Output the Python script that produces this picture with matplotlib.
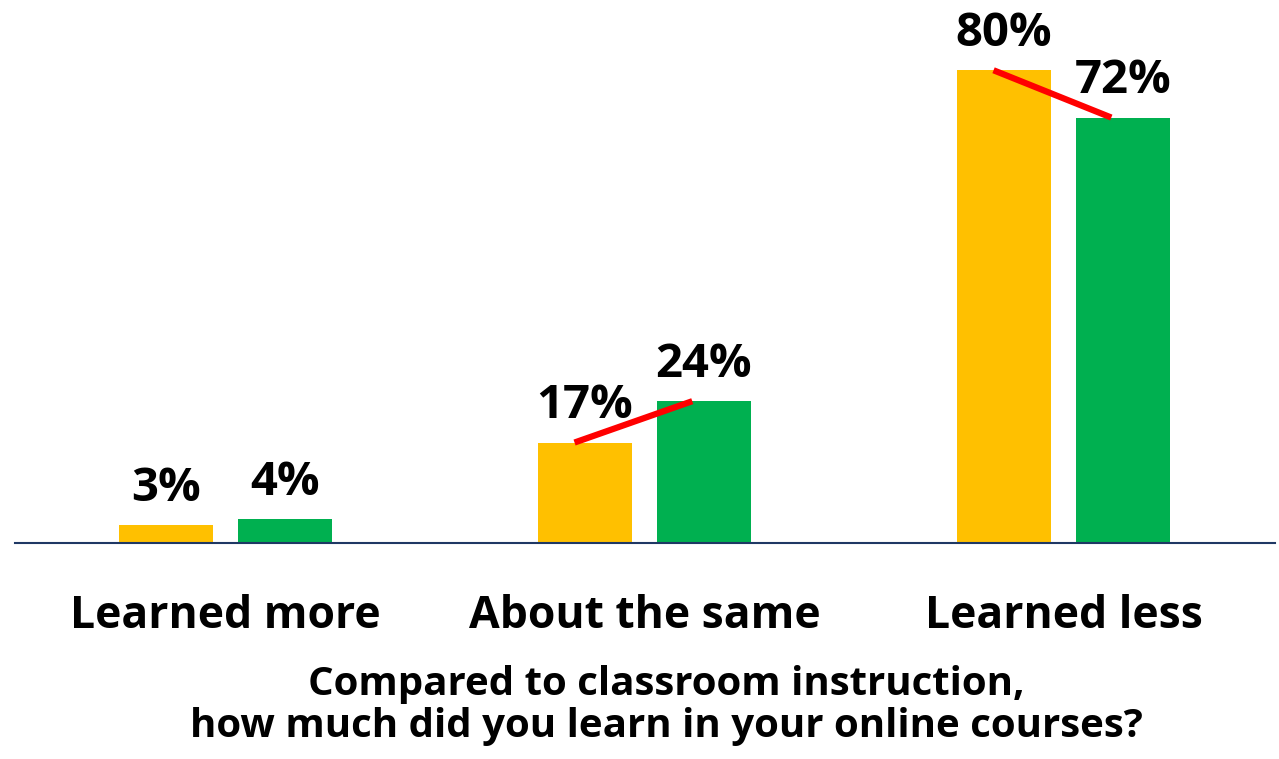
import matplotlib
matplotlib.use("Agg")
import matplotlib.pyplot as plt
from matplotlib.transforms import blended_transform_factory

categories = ["Learned more", "About the same", "Learned less"]
before_pct = [3, 17, 80]
after_pct = [4, 24, 72]
title_lines = ["Compared to classroom instruction,",
               "how much did you learn in your online courses?"]

YELLOW = "#FFC000"
GREEN = "#00B050"
FONT = "Open Sans"

W, H, DPI = 1279, 759, 100
fig = plt.figure(figsize=(W / DPI, H / DPI), dpi=DPI)
ax = fig.add_axes([15 / W, 216 / H, 1260 / W, 533 / H])

xs = list(range(len(categories)))
width = 0.224
off = 0.142

ax.bar([x - off for x in xs], before_pct, width, color=YELLOW, zorder=2)
ax.bar([x + off for x in xs], after_pct, width, color=GREEN, zorder=2)

for x, a, b in zip(xs, before_pct, after_pct):
    for xx, v in ((x - off, a), (x + off, b)):
        ax.annotate(f"{v}%", (xx, v), xytext=(0, 17.5), textcoords="offset points",
                    ha="center", va="baseline", fontsize=34, fontweight="bold",
                    family=FONT, color="black")

# red connector on the groups that changed notably
for i in (1, 2):
    ax.plot([xs[i] - off - 0.025, xs[i] + off - 0.028],
            [before_pct[i], after_pct[i]],
            color="#FF0000", lw=4.5, solid_capstyle="butt", zorder=3)

ax.set_xlim(-0.5024, 2.5047)
ax.set_ylim(0, 90.2)
for s in ("top", "left", "right"):
    ax.spines[s].set_visible(False)
ax.spines["bottom"].set_color("#1F3864")
ax.spines["bottom"].set_linewidth(1.5)
ax.set_xticks([])
ax.set_yticks([])

trans = blended_transform_factory(ax.transData, fig.transFigure)
for x, c in zip(xs, categories):
    ax.text(x, 1 - 628 / H, c, transform=trans, ha="center", va="baseline",
            fontsize=32, fontweight="bold", family=FONT)

for line, base in zip(title_lines, (695, 737)):
    fig.text(666 / W, 1 - base / H, line, ha="center", va="baseline",
             fontsize=29, fontweight="bold", family=FONT)

fig.savefig("out.png", dpi=DPI)
